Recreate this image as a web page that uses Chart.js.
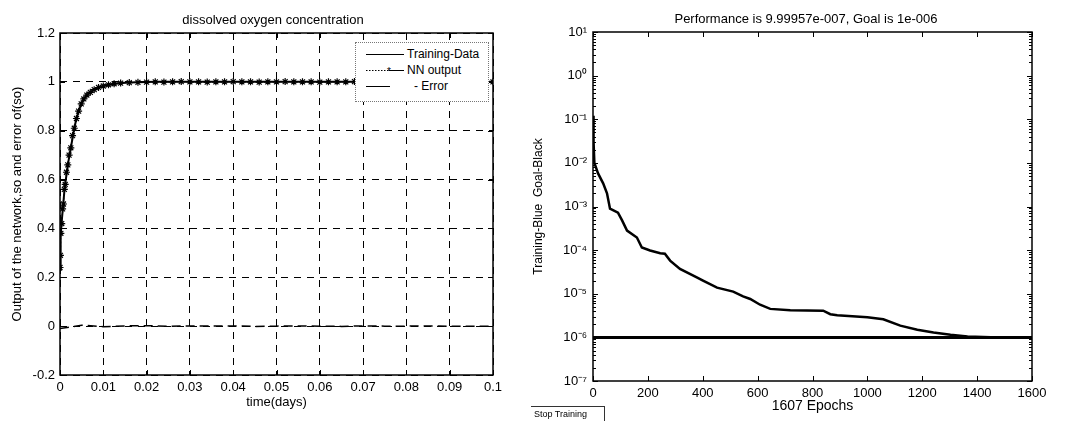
<!DOCTYPE html>
<html>
<head>
<meta charset="utf-8">
<title>Dissolved oxygen network training</title>
<script src="https://cdn.jsdelivr.net/npm/chart.js@4/dist/chart.umd.min.js"></script>
<style>
    html, body { margin: 0; padding: 0; background: #fff; }
    body { width: 1072px; height: 421px; position: relative; overflow: hidden;
           font-family: "Liberation Sans", Arial, sans-serif; color: #000; }
    canvas { position: absolute; top: 0; }
    #outputChart { left: 0; }
    #perfChart { left: 530px; }
    .plotTitle { position: absolute; top: 12px; width: 400px; margin-left: -200px;
                 text-align: center; font-size: 13px; line-height: 15px; white-space: nowrap; }
    #outputTitle { left: 273px; }
    #perfTitle { left: 806px; top: 11px; }
    #legend { position: absolute; left: 355px; top: 42px; width: 132px; height: 58px;
              background: #fff; border: 1px dotted #777; font-size: 12px; }
    #legend .row { position: absolute; left: 0; width: 132px; height: 14px; }
    #legend svg { position: absolute; left: 8px; top: 0; }
    #legend span { position: absolute; top: 0; line-height: 14px; white-space: nowrap; }
    #stopBtn { position: absolute; left: 531px; top: 406px; width: 74px; height: 15px;
               border-top: 1px solid #333; border-right: 1px solid #333;
               font-size: 9px; line-height: 14px; padding-left: 3px; box-sizing: border-box; }
</style>
</head>
<body>
<canvas id="outputChart" width="530" height="421"></canvas>
<canvas id="perfChart" width="542" height="421"></canvas>
<div class="plotTitle" id="outputTitle">dissolved oxygen concentration</div>
<div class="plotTitle" id="perfTitle">Performance is 9.99957e-007, Goal is 1e-006</div>
<div id="legend"></div>
<div id="stopBtn">Stop Training</div>

<script>
// Network output over time (days)
const timeDays = [0, 0.0001, 0.0002, 0.0004, 0.0006, 0.0008, 0.001, 0.0012, 0.0015, 0.0018,
    0.0021, 0.0025, 0.0029, 0.0033, 0.0038, 0.0043, 0.0049, 0.0055, 0.0062, 0.007,
    0.0079, 0.0089, 0.01, 0.0112, 0.0125, 0.014, 0.016, 0.018, 0.02,
    0.022, 0.024, 0.026, 0.028, 0.03, 0.032, 0.034, 0.036, 0.038, 0.04,
    0.042, 0.044, 0.046, 0.048, 0.05, 0.052, 0.054, 0.056, 0.058, 0.06,
    0.062, 0.064, 0.066, 0.068, 0.07, 0.072, 0.074, 0.076, 0.078, 0.08,
    0.082, 0.084, 0.086, 0.088, 0.09, 0.092, 0.094, 0.096, 0.098, 0.1];
const trainingData = [0.23, 0.30, 0.37, 0.43, 0.47, 0.51, 0.55, 0.58, 0.62, 0.66,
    0.69, 0.73, 0.77, 0.81, 0.85, 0.88, 0.91, 0.93, 0.945, 0.958,
    0.968, 0.976, 0.983, 0.988, 0.992, 0.995, 0.997, 0.998, 0.999,
    1, 1, 1, 1, 1, 1, 1, 1, 1, 1,
    1, 1, 1, 1, 1, 1, 1, 1, 1, 1,
    1, 1, 1, 1, 1, 1, 1, 1, 1, 1,
    1, 1, 1, 1, 1, 1, 1, 1, 1, 1];
const nnOutput = [0.24, 0.29, 0.38, 0.42, 0.48, 0.50, 0.56, 0.58, 0.63, 0.66,
    0.70, 0.73, 0.78, 0.81, 0.85, 0.88, 0.91, 0.93, 0.946, 0.957,
    0.968, 0.977, 0.983, 0.988, 0.992, 0.995, 0.997, 0.998, 0.999,
    1, 0.999, 1, 1.001, 1, 1, 0.999, 1, 1, 1.001,
    1, 1, 0.999, 1, 1, 1.001, 1, 1, 1, 0.999,
    1, 1, 1, 1.001, 1, 1, 0.999, 1, 1, 1,
    1, 1.001, 1, 1, 0.999, 1, 1, 1, 1, 1];
const errorTime = [0, 0.005, 0.01, 0.015, 0.02, 0.025, 0.03, 0.035, 0.04, 0.045, 0.05,
    0.055, 0.06, 0.065, 0.07, 0.075, 0.08, 0.085, 0.09, 0.095, 0.1];
const errorValues = [-0.01, 0.004, -0.002, 0.001, 0.002, -0.001, 0.001, 0, 0.001, -0.001, 0,
    0.001, 0, -0.001, 0.001, 0, 0, 0.001, -0.001, 0, 0];
const outputTicksX = [0, 0.01, 0.02, 0.03, 0.04, 0.05, 0.06, 0.07, 0.08, 0.09, 0.1];
const outputTicksY = [-0.2, 0, 0.2, 0.4, 0.6, 0.8, 1, 1.2];
const legendLabels = ['Training-Data', 'NN output', '- Error'];

// Training performance per epoch
const epochs = [0, 2, 5, 18, 37, 51, 62, 91, 106, 124, 160, 178, 208, 245, 262, 281, 317,
    380, 401, 452, 511, 547, 573, 609, 646, 719, 839, 865, 890, 1000, 1058, 1120,
    1182, 1241, 1303, 1365, 1450, 1540, 1607];
const trainPerf = [0.12, 0.03, 0.01, 5.8e-3, 3.4e-3, 2.0e-3, 8.9e-4, 7.2e-4, 4.8e-4, 2.8e-4,
    1.95e-4, 1.15e-4, 9.8e-5, 8.5e-5, 8.3e-5, 5.75e-5, 3.7e-5, 2.35e-5, 2.0e-5, 1.38e-5,
    1.12e-5, 8.7e-6, 7.6e-6, 5.6e-6, 4.5e-6, 4.2e-6, 4.1e-6, 3.4e-6, 3.2e-6, 2.9e-6,
    2.6e-6, 1.86e-6, 1.5e-6, 1.29e-6, 1.15e-6, 1.05e-6, 1.01e-6, 1.0e-6, 9.99957e-7];
const goalEpochs = [0, 1600];
const goalPerf = [1e-6, 1e-6];
const perfTicksX = [0, 200, 400, 600, 800, 1000, 1200, 1400, 1600];
const perfTicksY = [1e1, 1e0, 1e-1, 1e-2, 1e-3, 1e-4, 1e-5, 1e-6, 1e-7];
const perfTickLabels = ['10¹', '10⁰', '10⁻¹', '10⁻²', '10⁻³', '10⁻⁴', '10⁻⁵', '10⁻⁶', '10⁻⁷'];

const FONT = '"Liberation Sans", Arial, sans-serif';
Chart.defaults.font.family = FONT;
Chart.defaults.font.size = 13;
Chart.defaults.color = '#000';

const pairs = (xs, ys) => xs.map((x, i) => ({ x: x, y: ys[i] }));

// Plot frame with short inward tick marks, drawn on top of the data
const frameTicks = {
    id: 'frameTicks',
    afterDatasetsDraw(chart, args, opts) {
        const { ctx, chartArea: a, scales: { x, y } } = chart;
        ctx.save();
        ctx.strokeStyle = '#000';
        ctx.lineWidth = 1;
        ctx.beginPath();
        x.ticks.forEach(t => {
            const px = Math.round(x.getPixelForValue(t.value)) + 0.5;
            ctx.moveTo(px, a.bottom); ctx.lineTo(px, a.bottom - 5);
            ctx.moveTo(px, a.top); ctx.lineTo(px, a.top + 5);
        });
        y.ticks.forEach(t => {
            const py = Math.round(y.getPixelForValue(t.value)) + 0.5;
            ctx.moveTo(a.left, py); ctx.lineTo(a.left + 5, py);
            ctx.moveTo(a.right, py); ctx.lineTo(a.right - 5, py);
        });
        if (opts.minor) {
            // minor decade ticks on the log axis
            y.ticks.forEach(t => {
                for (let k = 2; k <= 9; k++) {
                    const v = t.value * k;
                    if (v >= y.max) continue;
                    const py = Math.round(y.getPixelForValue(v)) + 0.5;
                    ctx.moveTo(a.left, py); ctx.lineTo(a.left + 3, py);
                    ctx.moveTo(a.right, py); ctx.lineTo(a.right - 3, py);
                }
            });
        }
        ctx.stroke();
        ctx.lineWidth = 1.5;
        ctx.strokeRect(a.left, a.top, a.right - a.left, a.bottom - a.top);
        ctx.restore();
    }
};

const outputChart = new Chart(document.getElementById('outputChart'), {
    type: 'line',
    data: {
        datasets: [{
            label: legendLabels[0],
            data: pairs(timeDays, trainingData),
            borderColor: '#000',
            borderWidth: 2,
            pointRadius: 0,
            tension: 0
        }, {
            label: legendLabels[1],
            data: pairs(timeDays, nnOutput),
            borderColor: '#000',
            borderWidth: 1,
            borderDash: [2, 2],
            pointStyle: 'star',
            pointRadius: 3.5,
            pointBorderWidth: 1.2,
            pointBorderColor: '#000',
            tension: 0
        }, {
            label: legendLabels[2],
            data: pairs(errorTime, errorValues),
            borderColor: '#000',
            borderWidth: 1.5,
            borderDash: [9, 5],
            pointRadius: 0,
            tension: 0
        }]
    },
    options: {
        responsive: false,
        animation: false,
        devicePixelRatio: 1,
        layout: { padding: { left: 0, right: 37, top: 33, bottom: 0 } },
        plugins: {
            legend: { display: false },
            tooltip: { enabled: false },
            frameTicks: { minor: false }
        },
        scales: {
            x: {
                type: 'linear',
                min: 0, max: 0.1,
                afterBuildTicks: s => { s.ticks = outputTicksX.map(v => ({ value: v })); },
                afterFit: s => { s.height = 46; },
                ticks: { padding: 5, callback: v => String(v) },
                grid: { drawTicks: false, color: '#000', lineWidth: 1 },
                border: { display: false, dash: [7, 6] },
                title: { display: true, text: 'time(days)', font: { size: 13 }, padding: { top: 0, bottom: 11 } }
            },
            y: {
                type: 'linear',
                min: -0.2, max: 1.2,
                afterBuildTicks: s => { s.ticks = outputTicksY.map(v => ({ value: v })); },
                afterFit: s => { s.width = 60; },
                ticks: { padding: 5, callback: v => String(Math.round(v * 10) / 10) },
                grid: { drawTicks: false, color: '#000', lineWidth: 1 },
                border: { display: false, dash: [7, 6] },
                title: { display: true, text: 'Output of the network,so and error of(so)', font: { size: 13 }, padding: { top: 10, bottom: 0 } }
            }
        }
    },
    plugins: [frameTicks]
});

const perfChart = new Chart(document.getElementById('perfChart'), {
    type: 'line',
    data: {
        datasets: [{
            label: 'Goal',
            data: pairs(goalEpochs, goalPerf),
            borderColor: '#000',
            borderWidth: 3,
            pointRadius: 0
        }, {
            label: 'Training',
            data: pairs(epochs, trainPerf),
            borderColor: '#000',
            borderWidth: 2.5,
            pointRadius: 0,
            tension: 0
        }]
    },
    options: {
        responsive: false,
        animation: false,
        devicePixelRatio: 1,
        layout: { padding: { left: 0, right: 40, top: 32, bottom: 0 } },
        plugins: {
            legend: { display: false },
            tooltip: { enabled: false },
            frameTicks: { minor: true }
        },
        scales: {
            x: {
                type: 'linear',
                min: 0, max: 1600,
                afterBuildTicks: s => { s.ticks = perfTicksX.map(v => ({ value: v })); },
                afterFit: s => { s.height = 40; },
                ticks: { padding: 5, callback: v => String(v) },
                grid: { display: false, drawTicks: false },
                border: { display: false },
                title: { display: true, text: '1607 Epochs', font: { size: 14 }, padding: { top: 0, bottom: 6 } }
            },
            y: {
                type: 'logarithmic',
                min: 1e-7, max: 1e1,
                afterBuildTicks: s => { s.ticks = perfTicksY.map(v => ({ value: v })); },
                afterFit: s => { s.width = 63; },
                ticks: {
                    padding: 6,
                    callback: v => perfTickLabels[perfTicksY.indexOf(v)]
                },
                grid: { display: false, drawTicks: false },
                border: { display: false },
                title: { display: true, text: 'Training-Blue  Goal-Black', font: { size: 12 }, padding: { top: 1, bottom: 0 } }
            }
        }
    },
    plugins: [frameTicks]
});

// Legend box for the output plot
const legendDiv = document.getElementById('legend');
const legendSamples = [
    '<line x1="2" y1="7.5" x2="40" y2="7.5" stroke="#000" stroke-width="1"/>',
    '<line x1="2" y1="7.5" x2="25" y2="7.5" stroke="#000" stroke-width="1" stroke-dasharray="1.5,1.5"/>' +
    '<line x1="25" y1="7.5" x2="40" y2="7.5" stroke="#000" stroke-width="1"/>' +
    '<text x="25" y="11.5" font-size="10" text-anchor="middle">*</text>',
    '<line x1="2" y1="7.5" x2="26" y2="7.5" stroke="#000" stroke-width="1"/>'
];
const legendRows = [4, 20, 36];
const legendTextX = [51, 51, 58];
legendLabels.forEach((label, i) => {
    const row = document.createElement('div');
    row.className = 'row';
    row.style.top = legendRows[i] + 'px';
    row.innerHTML = '<svg width="42" height="14">' + legendSamples[i] + '</svg>' +
        '<span style="left:' + legendTextX[i] + 'px">' + label + '</span>';
    legendDiv.appendChild(row);
});
</script>
</body>
</html>
